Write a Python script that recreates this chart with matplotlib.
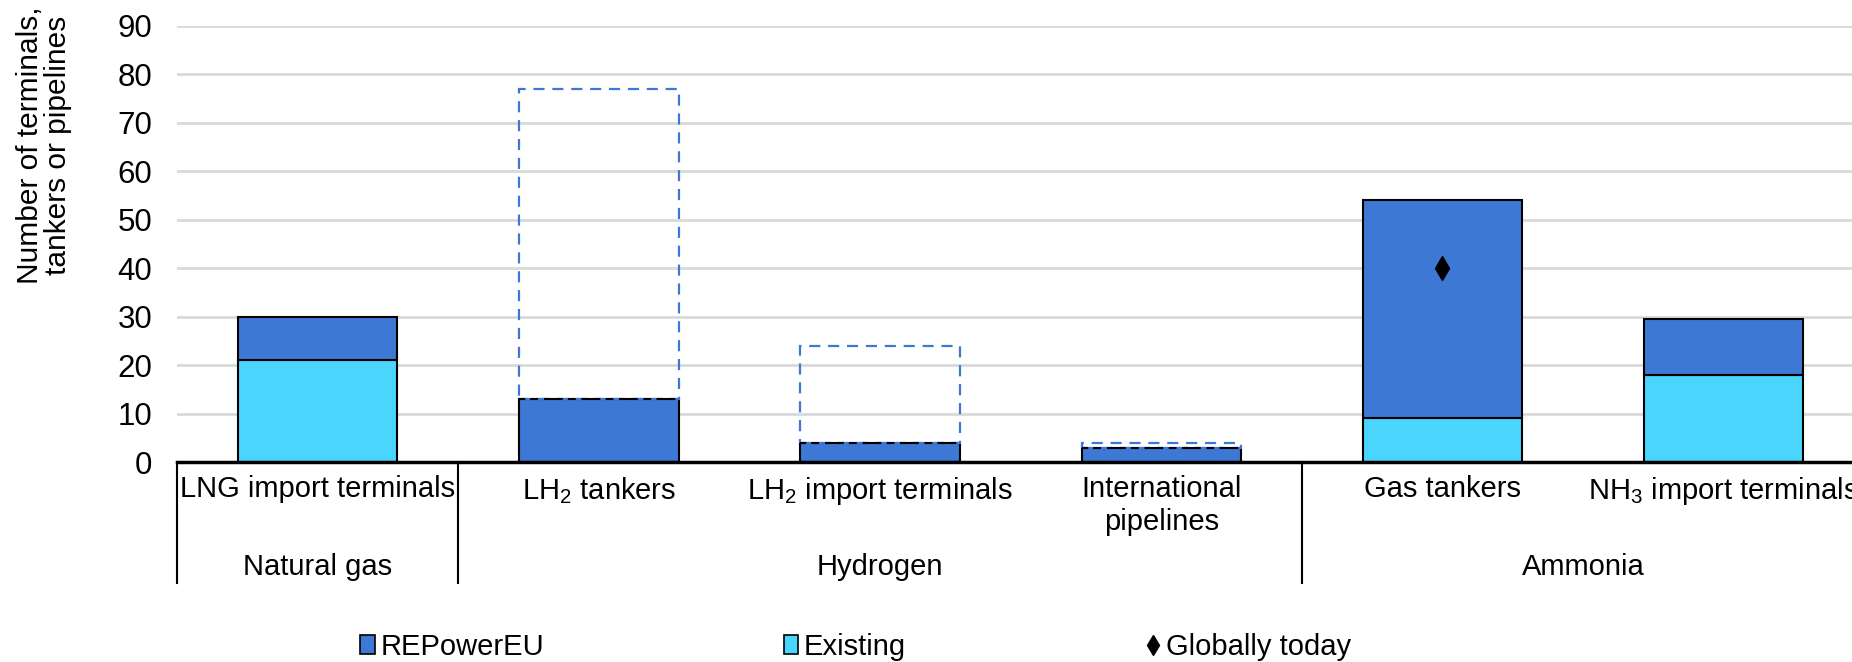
import matplotlib.pyplot as plt
import matplotlib.transforms as mtransforms
from matplotlib.patches import Patch
from matplotlib.lines import Line2D
import numpy as np

plt.rcParams['font.family'] = ['Liberation Sans', 'DejaVu Sans']
plt.rcParams['mathtext.fontset'] = 'custom'
plt.rcParams['mathtext.rm'] = 'Liberation Sans'
plt.rcParams['mathtext.it'] = 'Liberation Sans'

categories = ['LNG import terminals', r'LH$_\mathregular{2}$ tankers',
              r'LH$_\mathregular{2}$ import terminals', 'International\npipelines',
              'Gas tankers', r'NH$_\mathregular{3}$ import terminals']
groups = ['Natural gas', 'Hydrogen', 'Ammonia']
group_span = [(0, 0), (1, 3), (4, 5)]

existing = [21, 0, 0, 0, 9, 18]
repowereu = [9, 13, 4, 3, 45, 11.5]
# dashed outline = possible upper value for hydrogen items
upper = [None, 77, 24, 4, None, None]
globally_today = [None, None, None, None, 40, None]

c_rep = '#3D78D5'
c_exist = '#4AD5FD'
fs = 21

fig = plt.figure(figsize=(18.52, 6.62), dpi=100)
ax = fig.add_axes([0.0956, 0.302, 0.911, 0.659])

x = np.arange(len(categories))
w = 0.567

ax.bar(x, existing, w, color=c_exist, edgecolor='black', linewidth=1.5, zorder=3)
ax.bar(x, repowereu, w, bottom=existing, color=c_rep, edgecolor='black',
       linewidth=1.5, zorder=3)

for i, u in enumerate(upper):
    if u is None:
        continue
    top = existing[i] + repowereu[i]
    ax.bar(x[i], u - top, w, bottom=top, fill=False, edgecolor=c_rep,
           linestyle=(0, (5, 3.5)), linewidth=1.6, zorder=4)
    ax.plot([x[i] - w / 2, x[i] + w / 2], [top, top], color='black',
            linestyle=(0, (3, 3)), linewidth=1.5, zorder=5)

gx = [x[i] for i, v in enumerate(globally_today) if v is not None]
gy = [v for v in globally_today if v is not None]
ax.plot(gx, gy, 'd', color='black', markersize=12, zorder=6)

ax.set_xlim(-0.5, len(categories) - 0.5)
ax.set_ylim(0, 90)
ax.set_yticks(range(0, 91, 10))
ax.tick_params(axis='y', labelsize=22.5, length=0, pad=18)
ax.set_xticks([])
ax.grid(axis='y', color='#D9D9D9', linewidth=2, zorder=0)
for s in ['top', 'right', 'left']:
    ax.spines[s].set_visible(False)
ax.spines['bottom'].set_linewidth(2.5)
ax.spines['bottom'].set_zorder(7)

trans = mtransforms.blended_transform_factory(ax.transData, ax.transAxes)
for i, lab in enumerate(categories):
    ax.text(x[i], -0.03, lab, transform=trans, ha='center', va='top',
            fontsize=fs, linespacing=1.2)
for g, (a, b) in zip(groups, group_span):
    ax.text((a + b) / 2, -0.24, g, transform=trans, ha='center', va='center',
            fontsize=fs)
for sx in [-0.5, 0.5, 3.5]:
    ax.plot([sx, sx], [0, -0.278], transform=trans, color='black',
            linewidth=1.5, clip_on=False)

fig.text(0.024, 0.78, 'Number of terminals,\ntankers or pipelines',
         rotation=90, ha='center', va='center', fontsize=21.5, linespacing=1.0)

handles = [Patch(facecolor=c_rep, edgecolor='black', linewidth=1.2),
           Patch(facecolor=c_exist, edgecolor='black', linewidth=1.2),
           Line2D([], [], marker='d', color='black', linestyle='none',
                  markersize=10)]
fig.legend(handles, ['REPowerEU', 'Existing', 'Globally today'],
           loc='center', bbox_to_anchor=(0.462, 0.023), ncol=3, frameon=False,
           fontsize=fs, handlelength=0.5, handleheight=0.6,
           handletextpad=0.2, columnspacing=8.2)

fig.savefig('out.png', dpi=100)
